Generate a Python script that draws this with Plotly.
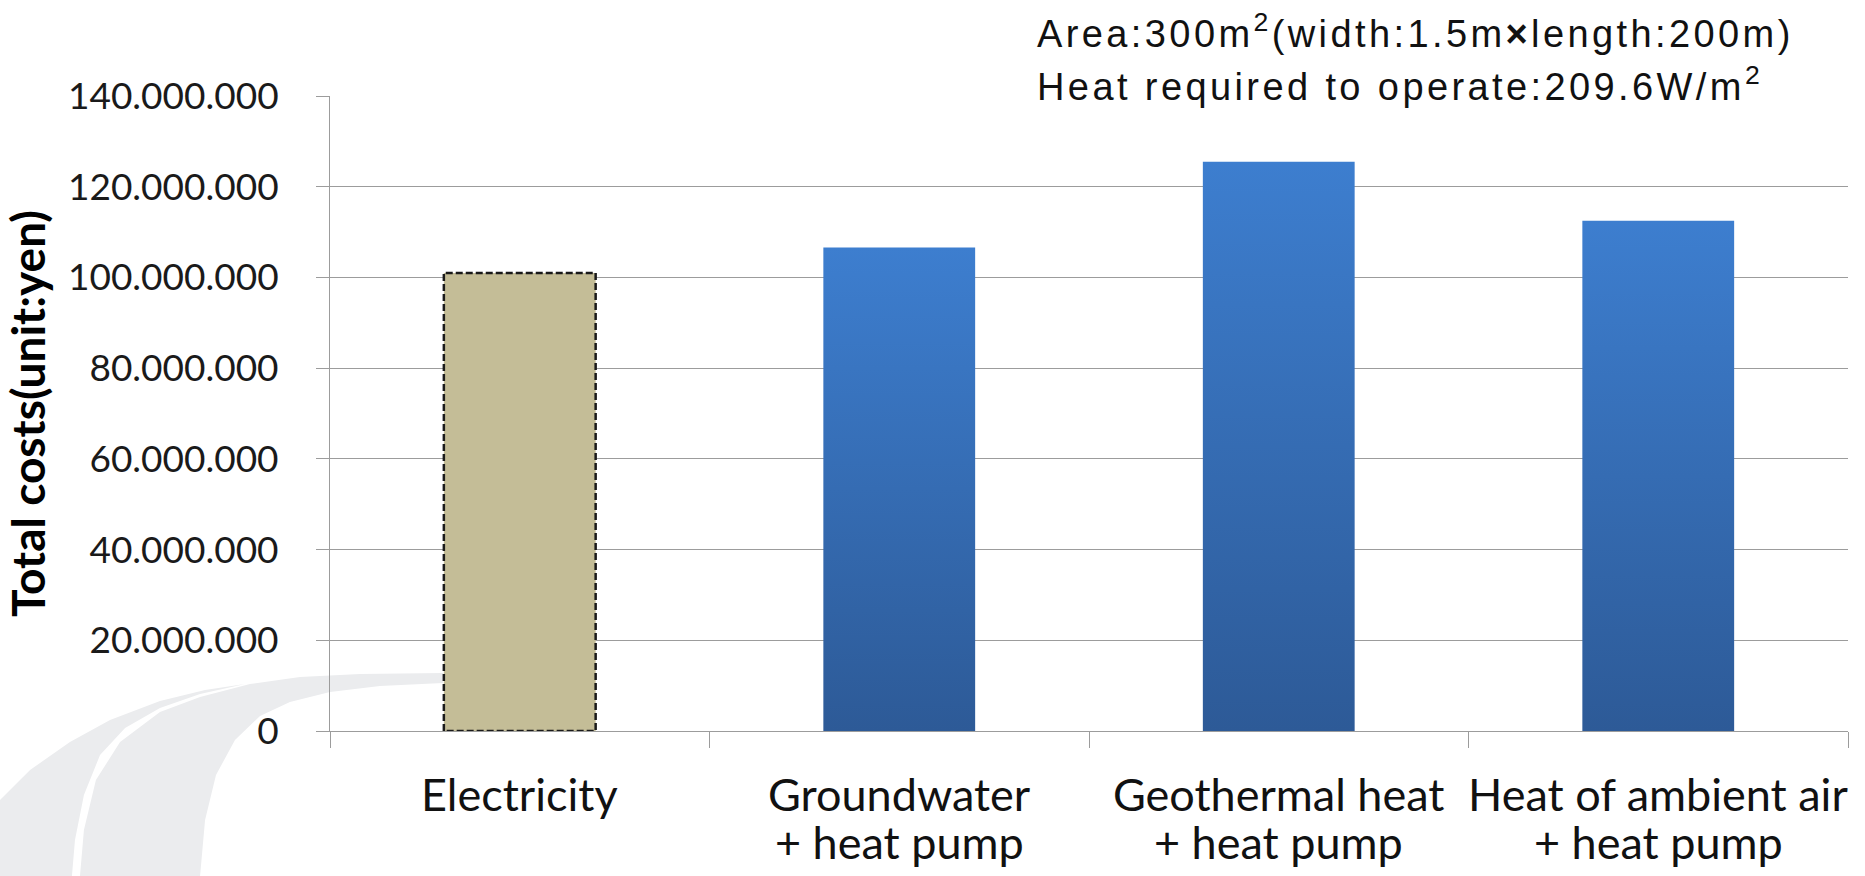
import plotly.graph_objects as go

# ---- data -------------------------------------------------------------
categories_line1 = ["Electricity", "Groundwater", "Geothermal heat", "Heat of ambient air"]
categories_line2 = ["", "+ heat pump", "+ heat pump", "+ heat pump"]
total_costs = [101_000_000, 106_600_000, 125_500_000, 112_500_000]
y_ticks = [0, 20_000_000, 40_000_000, 60_000_000, 80_000_000,
           100_000_000, 120_000_000, 140_000_000]
note_lines = ["Area:300m<sup>2</sup>(width:1.5m<b>×</b>length:200m)",
              "Heat required to operate:209.6W/m<sup>2</sup>"]

# ---- figure geometry (pixels) -----------------------------------------
W, H = 1865, 876
L, R, T, B = 330, 17, 96, 145
PW, PH = W - L - R, H - T - B
BAR_W = 0.4

TICK_FONT = "Lato, 'Open Sans', sans-serif"
NOTE_FONT = "'Liberation Sans', Arial, sans-serif"
GRID = "#9c9c9c"


def px_to_paper(x, y):
    return (x - L) / PW, (H - B - y) / PH


fig = go.Figure()

# bars drawn as filled outlines so the heat-pump bars can carry a vertical gradient
for i, v in enumerate(total_costs):
    x0, x1 = i - BAR_W / 2, i + BAR_W / 2
    xs = [x0, x0, x1, x1, x0]
    ys = [0, v, v, 0, 0]
    if i == 0:
        fig.add_trace(go.Scatter(
            x=xs, y=ys, mode="lines", fill="toself",
            fillcolor="#c4bd97",
            line=dict(color="#1a1a1a", width=2.5, dash="7px,3px"),
            hoverinfo="skip", showlegend=False,
        ))
    else:
        fig.add_trace(go.Scatter(
            x=xs, y=ys, mode="lines", fill="toself",
            fillgradient=dict(type="vertical",
                              colorscale=[[0, "#2d5a97"], [1, "#3d7ecf"]]),
            line=dict(color="rgba(0,0,0,0)", width=0),
            hoverinfo="skip", showlegend=False,
        ))

# faint swoosh watermark in the lower-left corner
def path_from(points):
    pts = [px_to_paper(x, y) for x, y in points]
    d = "M {:.4f},{:.4f} ".format(*pts[0])
    d += " ".join("L {:.4f},{:.4f}".format(*p) for p in pts[1:])
    return d + " Z"

outer_band = [(0, 800), (30, 770), (70, 742), (110, 720), (160, 701), (205, 690),
              (245, 684), (200, 694), (160, 708), (125, 728), (100, 755), (84, 795),
              (75, 840), (72, 876), (0, 876)]
inner_band = [(80, 876), (84, 830), (96, 780), (120, 742), (160, 712), (200, 697),
              (250, 684), (300, 677), (360, 674), (443, 673), (443, 683), (380, 686),
              (330, 692), (290, 702), (260, 716), (235, 740), (216, 775), (205, 820),
              (200, 876)]
shapes = []
for band in (outer_band, inner_band):
    shapes.append(dict(type="path", xref="paper", yref="paper", path=path_from(band),
                       fillcolor="#ebecee", line=dict(width=0), layer="below"))

# two-line category labels under the axis
annotations = []
for i, (a, b) in enumerate(zip(categories_line1, categories_line2)):
    annotations.append(dict(x=i, xref="x", y=0, yref="paper", yanchor="top",
                            yshift=-34, text=a, showarrow=False,
                            font=dict(family=TICK_FONT, size=45, color="#111111")))
    if b:
        annotations.append(dict(x=i, xref="x", y=0, yref="paper", yanchor="top",
                                yshift=-82, text=b, showarrow=False,
                                font=dict(family=TICK_FONT, size=45, color="#111111")))

# note at the top right; the second line sits on a white box that hides the top gridline
def spaced(s):
    return '<span style="letter-spacing:3.4px">' + s + "</span>"

n2x, n2y = px_to_paper(1012, 35)
annotations.append(dict(x=n2x, y=n2y, xref="paper", yref="paper", xanchor="left",
                        yanchor="top", align="left", text=spaced(note_lines[1]),
                        showarrow=False, width=788, borderpad=24, bgcolor="white",
                        font=dict(family=NOTE_FONT, size=38, color="#111111")))
n1x, n1y = px_to_paper(1036, 6)
annotations.append(dict(x=n1x, y=n1y, xref="paper", yref="paper", xanchor="left",
                        yanchor="top", align="left", text=spaced(note_lines[0]),
                        showarrow=False, borderpad=0,
                        font=dict(family=NOTE_FONT, size=38, color="#111111")))

fig.update_layout(
    width=W, height=H,
    margin=dict(l=L, r=R, t=T, b=B, autoexpand=False),
    paper_bgcolor="white", plot_bgcolor="rgba(0,0,0,0)",
    separators=",.",
    shapes=shapes,
    annotations=annotations,
    showlegend=False,
)
fig.update_xaxes(
    range=[-0.5, len(total_costs) - 0.5],
    tickvals=[k - 0.5 for k in range(len(total_costs) + 1)],
    showticklabels=False, ticks="outside", ticklen=16, tickcolor=GRID, tickwidth=1,
    showgrid=False, zeroline=False, showline=True, linecolor=GRID, linewidth=1,
    fixedrange=True,
)
fig.update_yaxes(
    range=[0, 140_000_000], tickvals=y_ticks, tickformat=",d",
    ticks="outside", ticklen=13, tickcolor=GRID, tickwidth=1,
    ticklabelstandoff=30,
    tickfont=dict(family=TICK_FONT, size=37, color="#1a1a1a"),
    showgrid=True, gridcolor=GRID, gridwidth=1, zeroline=False,
    showline=True, linecolor=GRID, linewidth=1,
    title=dict(text="<b>Total costs(unit:yen)</b>", standoff=22,
               font=dict(family=TICK_FONT, size=46, color="#000000")),
    automargin=False, fixedrange=True,
)

fig.write_html("out.html")
